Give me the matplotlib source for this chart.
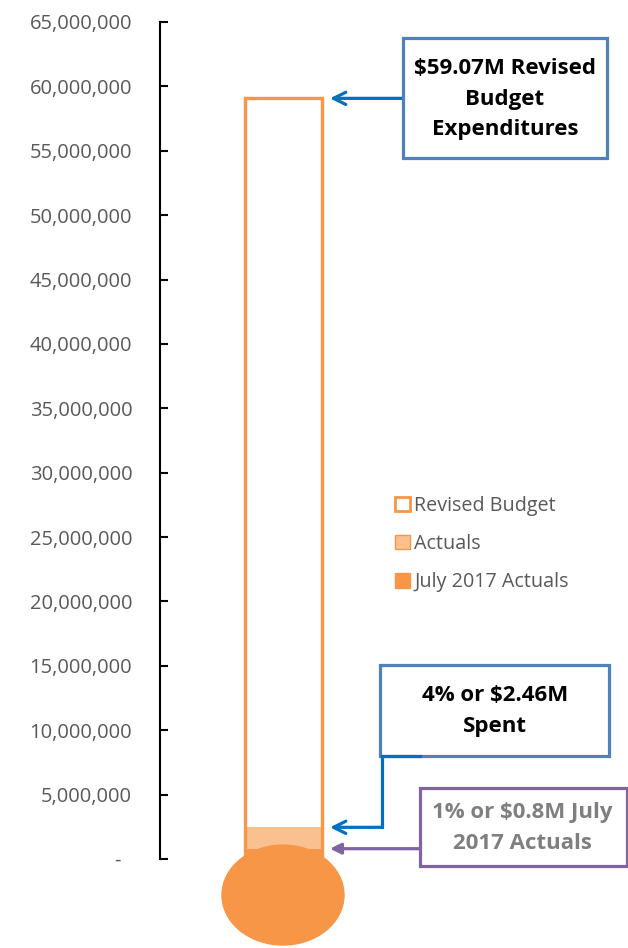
import matplotlib
matplotlib.use("Agg")
import matplotlib.pyplot as plt
from matplotlib.patches import Patch, Ellipse, Rectangle
from matplotlib.lines import Line2D
import matplotlib.transforms as mtransforms
from matplotlib.ticker import FuncFormatter

plt.rcParams['font.family'] = ['Open Sans', 'DejaVu Sans']

# data
series = ['Revised Budget', 'Actuals', 'July 2017 Actuals']
values = [59070000, 2460000, 800000]
yticks = list(range(0, 65000001, 5000000))
box_texts = ['$59.07M Revised\nBudget\nExpenditures',
             '4% or $2.46M\nSpent',
             '1% or $0.8M July\n2017 Actuals']

orange = '#F79646'
light = '#FAC090'
blue = '#0070C0'
box_blue = '#4F81BD'
purple = '#8064A2'
W, H = 628, 948


def fx(x):
    return x / W


def fy(y):
    return 1 - y / H


fig = plt.figure(figsize=(6.28, 9.48), dpi=100)
ax = fig.add_axes([fx(160), fy(859), fx(628) - fx(160), fy(22) - fy(859)])
ax.set_xlim(-1.23, 3.45)
ax.set_ylim(0, 65000000)

bw = 0.77
ax.bar(0, values[0], width=bw, color='white', edgecolor=orange, linewidth=2.3, zorder=1)
ax.bar(0, values[1], width=bw, color=light, edgecolor='none', zorder=2)
ax.bar(0, values[2], width=bw, color=orange, edgecolor='none', zorder=3)
ax.bar(0, values[0], width=bw, color='none', edgecolor=orange, linewidth=2.3, zorder=4)
# bulb
ax.add_patch(Ellipse((0, -2.8e6), 1.22, 7.76e6, color=orange, clip_on=False, zorder=5))

for s in ['top', 'right', 'bottom']:
    ax.spines[s].set_visible(False)
ax.spines['left'].set_linewidth(1.5)
ax.set_xticks([])
ax.set_yticks(yticks)
ax.yaxis.set_major_formatter(FuncFormatter(lambda v, p: '-  ' if v == 0 else f'{int(v):,}'))
ax.tick_params(axis='y', direction='in', length=6, width=1.5, color='black',
               labelsize=14.5, labelcolor='#595959', pad=20)

# legend
handles = [Patch(facecolor='white', edgecolor=orange, linewidth=2),
           Patch(facecolor=light, edgecolor=orange, linewidth=1),
           Patch(facecolor=orange, edgecolor=orange, linewidth=1)]
fig.legend(handles, series, loc='upper left', bbox_to_anchor=(fx(377), fy(478)),
           frameon=False, fontsize=14.2, labelcolor='#595959', handlelength=0.75,
           handleheight=0.75, handletextpad=0.25, labelspacing=0.93)

# annotation boxes
boxes = [(403, 38, 607, 158, box_blue), (380, 665, 609, 756, box_blue), (420, 788, 627, 866, purple)]
text_pos = [(505, 99), (495, 711), (522, 828)]
text_col = ['black', 'black', '#7F7F7F']
for (x0, y0, x1, y1, c), (tx, ty), t, tc in zip(boxes, text_pos, box_texts, text_col):
    fig.patches.append(Rectangle((fx(x0), fy(y1)), fx(x1) - fx(x0), fy(y0) - fy(y1),
                                 transform=fig.transFigure, facecolor='white',
                                 edgecolor=c, linewidth=2.3, zorder=6))
    fig.text(fx(tx), fy(ty), t, ha='center', va='center', fontsize=16,
             fontweight='bold', color=tc, linespacing=1.58, zorder=7)

tip_x = 0.47
blend = mtransforms.blended_transform_factory(fig.transFigure, ax.transData)

ax.annotate('', xy=(tip_x, values[0]), xycoords='data',
            xytext=(fx(403), values[0]), textcoords=('figure fraction', 'data'),
            arrowprops=dict(arrowstyle='->', color=blue, lw=2.3, shrinkA=0, shrinkB=0,
                            mutation_scale=22), annotation_clip=False)

fig.lines.append(Line2D([fx(420), fx(382)], [fy(756), fy(756)],
                        transform=fig.transFigure, color=blue, lw=2.3, zorder=8))
y_top = ax.transData.inverted().transform(fig.transFigure.transform((0, fy(756))))[1]
ax.plot([fx(382), fx(382)], [y_top, values[1]], transform=blend, color=blue, lw=2.3,
        clip_on=False, zorder=8, solid_capstyle='projecting')
ax.annotate('', xy=(tip_x, values[1]), xycoords='data',
            xytext=(fx(382), values[1]), textcoords=('figure fraction', 'data'),
            arrowprops=dict(arrowstyle='->', color=blue, lw=2.3, shrinkA=0, shrinkB=0,
                            mutation_scale=22), annotation_clip=False)

ax.annotate('', xy=(tip_x, values[2]), xycoords='data',
            xytext=(fx(420), values[2]), textcoords=('figure fraction', 'data'),
            arrowprops=dict(arrowstyle='-|>', color=purple, lw=2.3, shrinkA=0, shrinkB=0,
                            mutation_scale=16), annotation_clip=False)

fig.savefig('out.png', dpi=100)
